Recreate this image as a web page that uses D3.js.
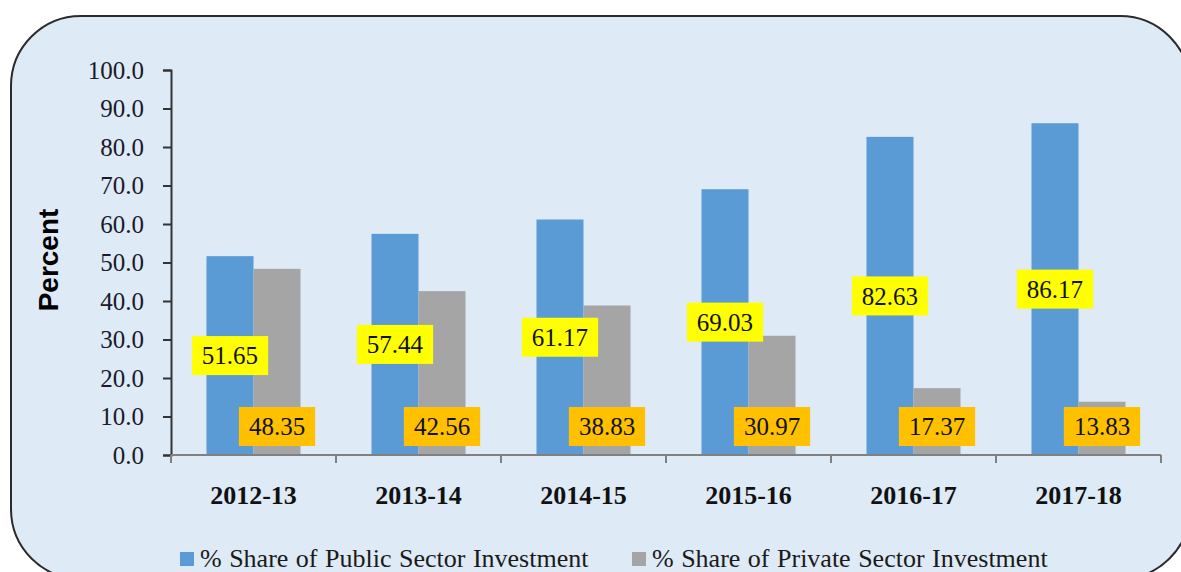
<!DOCTYPE html>
<html>
<head>
<meta charset="utf-8">
<script src="https://cdn.jsdelivr.net/npm/d3@7"></script>
<style>
  body { margin: 0; background: #fff; }
  svg { display: block; }
</style>
</head>
<body>
<div id="chart"></div>
<script>
// data
var years = ["2012-13", "2013-14", "2014-15", "2015-16", "2016-17", "2017-18"];
var publicShare = [51.65, 57.44, 61.17, 69.03, 82.63, 86.17];
var privateShare = [48.35, 42.56, 38.83, 30.97, 17.37, 13.83];
var seriesNames = ["% Share of Public Sector Investment", "% Share of Private Sector Investment"];
var yTicks = [0, 10, 20, 30, 40, 50, 60, 70, 80, 90, 100];

var width = 1181,
	height = 572;

var barColors = ["#5b9bd5", "#a5a5a5"],
	labelColors = ["#ffff00", "#ffc000"];

var svg = d3.select("#chart").append("svg")
	.attr("width", width)
	.attr("height", height);

// rounded frame
svg.append("rect")
	.attr("x", 11).attr("y", 16)
	.attr("width", 1179).attr("height", 563)
	.attr("rx", 70).attr("ry", 70)
	.attr("fill", "#deeaf6")
	.attr("stroke", "#2b2b2b")
	.attr("stroke-width", 2);

var plotLeft = 171, plotRight = 1161, plotTop = 70, plotBottom = 455;

var y = d3.scaleLinear().domain([0, 100]).range([plotBottom, plotTop]);
var x0 = d3.scaleBand().domain(years).range([plotLeft, plotRight]);
var x1 = d3.scaleBand().domain([0, 1]).range([0, x0.bandwidth()]).paddingOuter(0.755);

var rows = years.map(function(yr, i){
	return {year: yr, values: [publicShare[i], privateShare[i]]};
});

// bars
var groups = svg.selectAll(".grp")
	.data(rows)
	.enter().append("g")
	.attr("class", "grp")
	.attr("transform", function(d){ return "translate(" + x0(d.year) + ",0)"; });

groups.selectAll("rect")
	.data(function(d){ return d.values.map(function(v, k){ return {k: k, v: v}; }); })
	.enter().append("rect")
	.attr("x", function(d){ return x1(d.k); })
	.attr("y", function(d){ return y(d.v); })
	.attr("width", x1.bandwidth())
	.attr("height", function(d){ return y(0) - y(d.v); })
	.attr("fill", function(d){ return barColors[d.k]; });

// y axis
var yAxis = svg.append("g")
	.attr("transform", "translate(" + plotLeft + ",0)")
	.call(d3.axisLeft(y).tickValues(yTicks).tickSize(8).tickPadding(19)
		.tickFormat(d3.format(".1f")));
yAxis.select(".domain").attr("stroke", "#333").attr("stroke-width", 2);
yAxis.selectAll(".tick line").attr("stroke", "#333").attr("stroke-width", 2);
yAxis.selectAll(".tick text")
	.attr("fill", "#1a1a2a")
	.style("font-family", "'Liberation Serif', serif")
	.style("font-size", "25px");

// x axis: ticks at category boundaries
var xg = svg.append("g");
xg.append("line")
	.attr("x1", plotLeft).attr("x2", plotRight)
	.attr("y1", y(0)).attr("y2", y(0))
	.attr("stroke", "#808080").attr("stroke-width", 2);
var bounds = years.map(function(d){ return x0(d); }).concat([plotRight]);
xg.selectAll(".xt")
	.data(bounds)
	.enter().append("line")
	.attr("x1", function(d){ return d; }).attr("x2", function(d){ return d; })
	.attr("y1", y(0)).attr("y2", y(0) + 8)
	.attr("stroke", "#808080").attr("stroke-width", 2);
xg.selectAll(".xl")
	.data(years)
	.enter().append("text")
	.attr("x", function(d){ return x0(d) + x0.bandwidth() / 2; })
	.attr("y", 504)
	.attr("text-anchor", "middle")
	.style("font-family", "'Liberation Serif', serif")
	.style("font-weight", "bold")
	.style("font-size", "26px")
	.attr("fill", "#111")
	.text(function(d){ return d; });

// y title
svg.append("text")
	.attr("transform", "translate(58,260) rotate(-90)")
	.attr("text-anchor", "middle")
	.style("font-family", "'Liberation Sans', Arial, sans-serif")
	.style("font-weight", "bold")
	.style("font-size", "28px")
	.attr("fill", "#000")
	.text("Percent");

// data labels
var labH = 39, padX = 10;
function addLabel(g, cx, cy, txt, fill){
	var lg = g.append("g");
	var r = lg.append("rect").attr("fill", fill);
	var t = lg.append("text")
		.attr("x", cx).attr("y", cy)
		.attr("dy", "0.35em")
		.attr("text-anchor", "middle")
		.style("font-family", "'Liberation Serif', serif")
		.style("font-size", "25px")
		.attr("fill", "#111")
		.text(txt);
	var w = t.node().getComputedTextLength() + padX * 2;
	r.attr("x", cx - w / 2).attr("y", cy - labH / 2)
		.attr("width", w).attr("height", labH);
}

groups.each(function(d){
	var g = d3.select(this);
	var bw = x1.bandwidth();
	// public: centred in the bar
	addLabel(g, x1(0) + bw / 2, y(d.values[0] / 2), d.values[0].toFixed(2), labelColors[0]);
	// private: inside base
	addLabel(g, x1(1) + bw / 2, y(0) - 9 - labH / 2, d.values[1].toFixed(2), labelColors[1]);
});

// legend
var legX = [180, 632];
var leg = svg.selectAll(".leg")
	.data(seriesNames)
	.enter().append("g")
	.attr("class", "leg")
	.attr("transform", function(d, i){ return "translate(" + legX[i] + ",0)"; });
leg.append("rect")
	.attr("x", 0).attr("y", 552)
	.attr("width", 14).attr("height", 14)
	.attr("fill", function(d, i){ return barColors[i]; });
leg.append("text")
	.attr("x", 20).attr("y", 567)
	.style("font-family", "'Liberation Serif', serif")
	.style("font-size", "26px")
	.style("word-spacing", "1px")
	.attr("fill", "#1a1a1a")
	.text(function(d){ return d; });
</script>
</body>
</html>
